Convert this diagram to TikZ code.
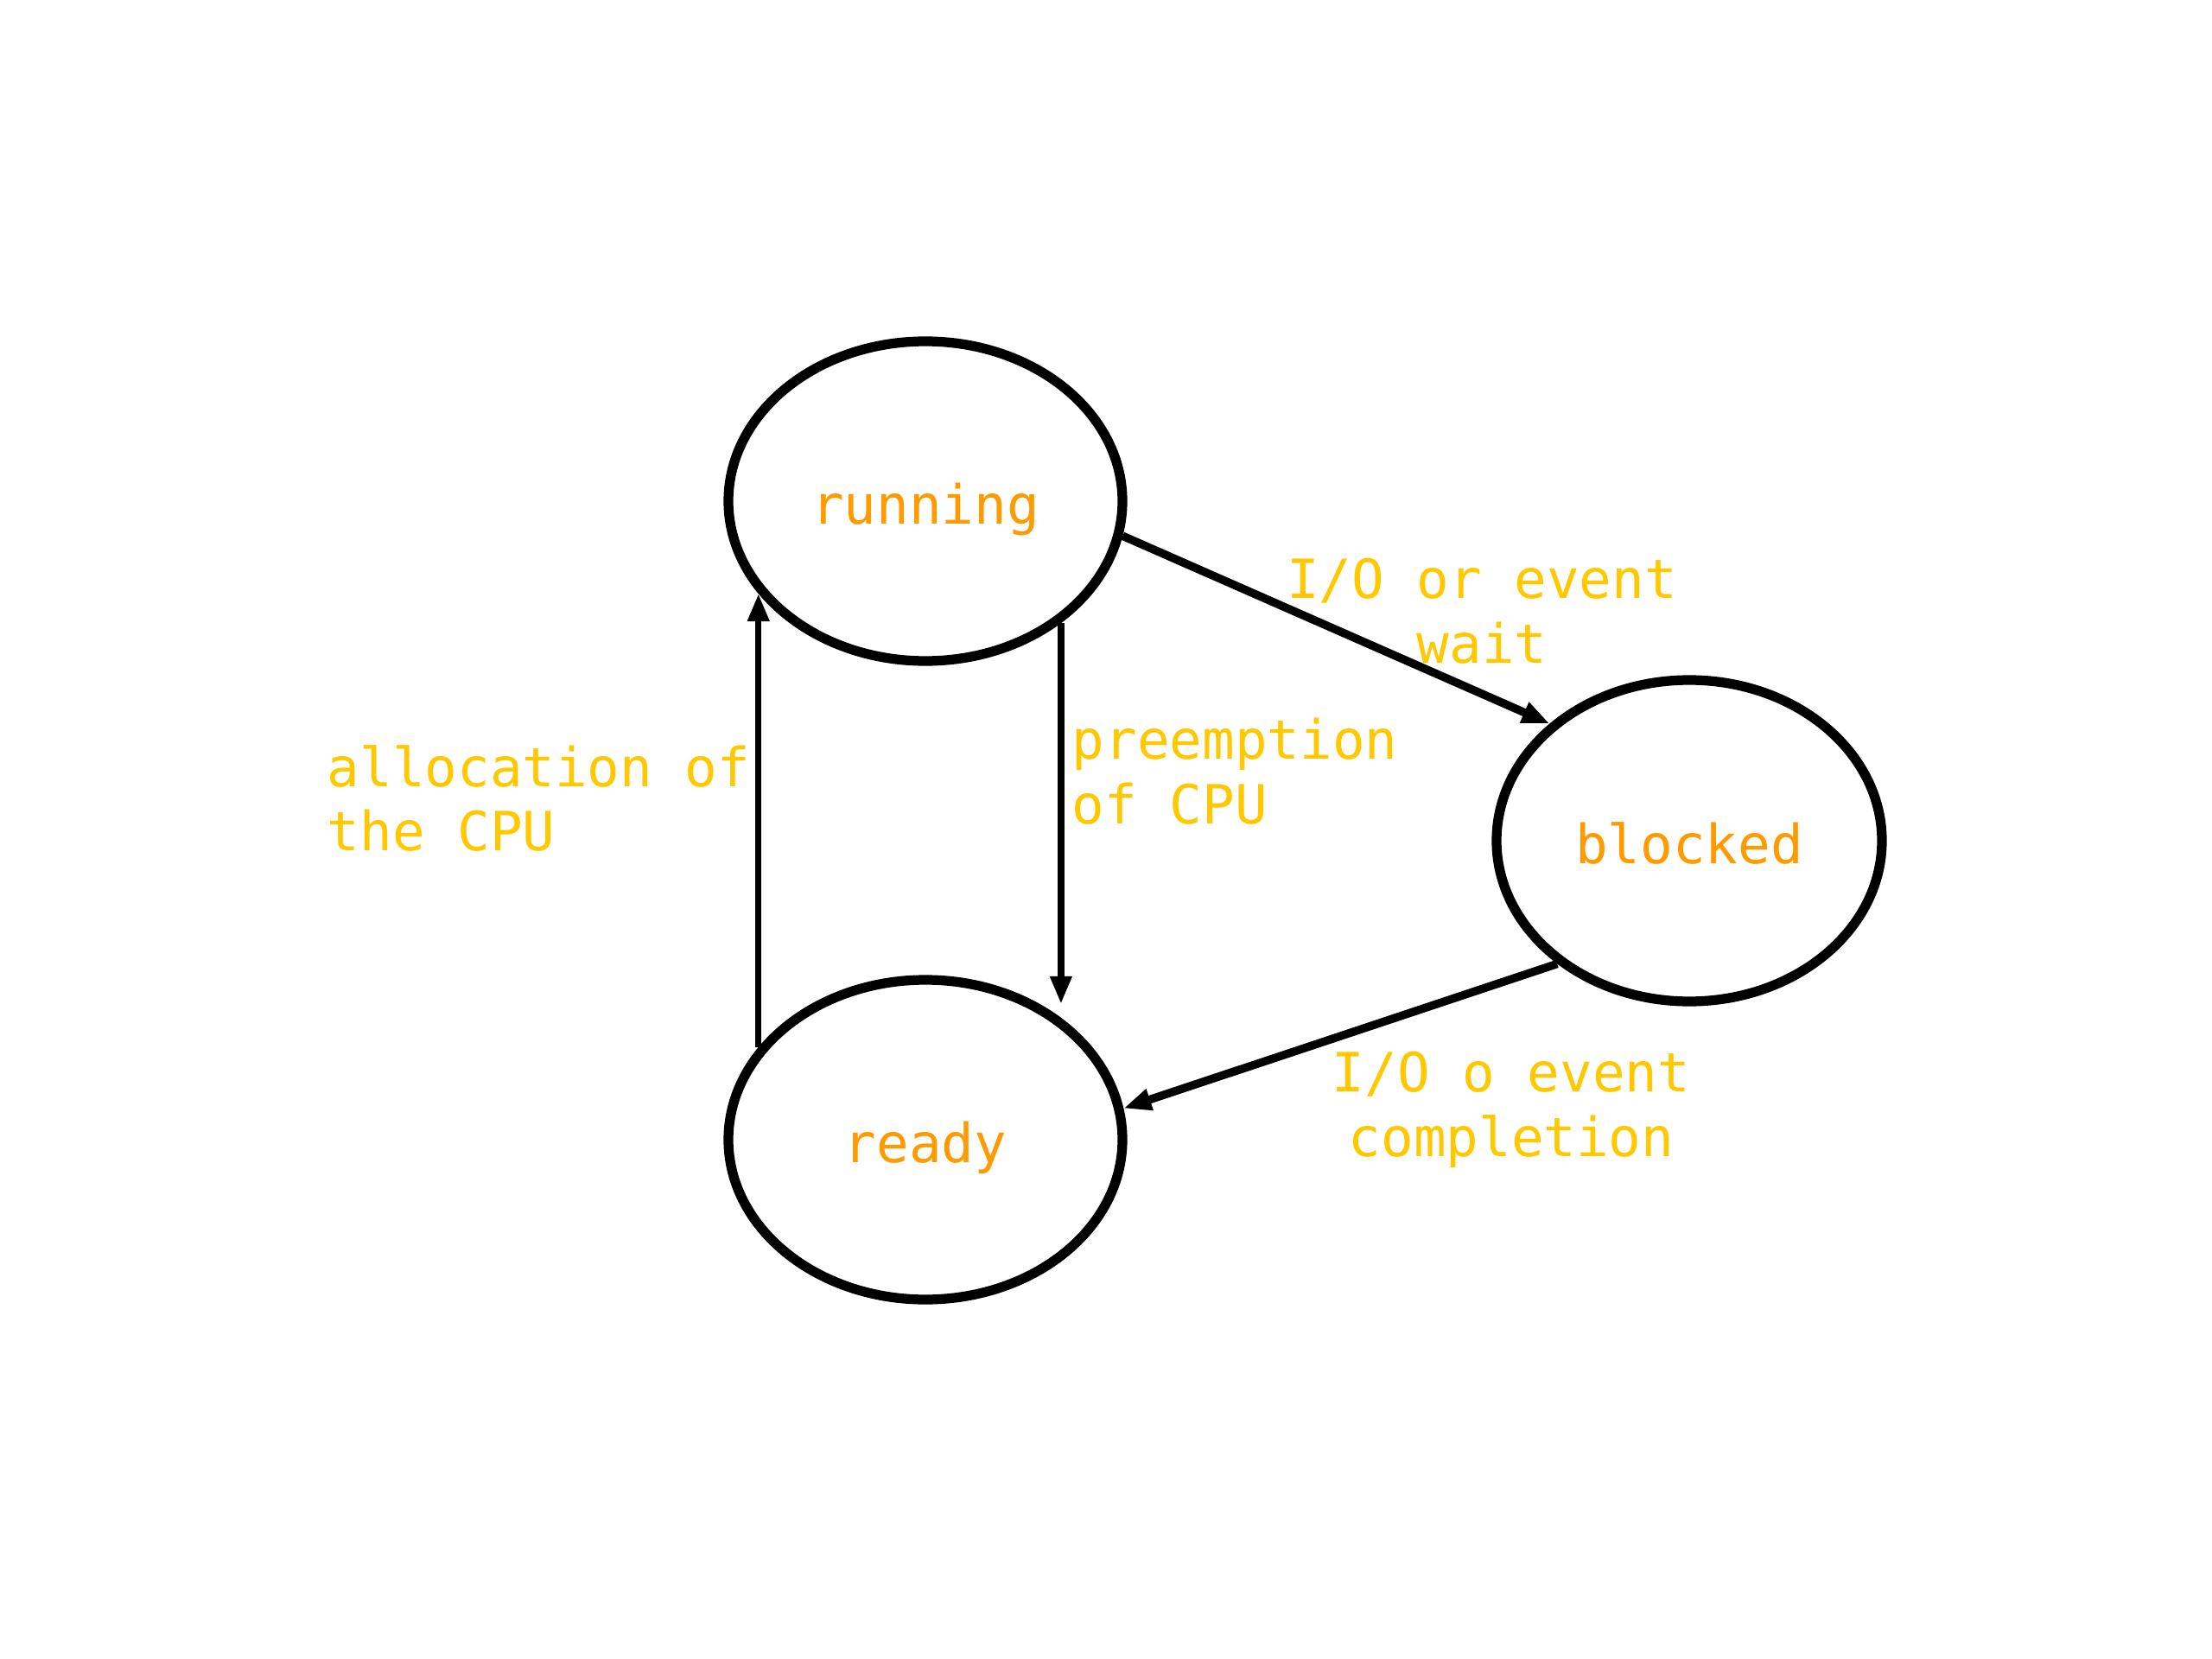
\documentclass[tikz,border=0pt]{standalone}
\usepackage{fontspec}
\setmonofont{DejaVu Sans Mono}
\usetikzlibrary{arrows.meta,shapes.geometric}
\definecolor{ink}{HTML}{000000}
\definecolor{statecol}{HTML}{FF9A00}
\definecolor{edgecol}{HTML}{FFC800}
\tikzset{
  state/.style={ellipse, draw=ink, line width=3.2pt, fill=white, minimum width=45.6mm, minimum height=37.0mm, inner sep=0pt, text height=19.6pt, text depth=4.5pt, font=\ttfamily\fontsize{17.8}{21.3}\selectfont, text=statecol},
  edgelabel/.style={font=\ttfamily\fontsize{17.8}{21.3}\selectfont, text=edgecol, inner sep=0pt},
  arrow/.style={-{Triangle[length=3.2mm,width=2.4mm]}, line width=2.1pt, draw=ink},
  diagarrow/.style={arrow, line width=2.7pt}
}
\begin{document}
\begin{tikzpicture}
\fill[white] (0,0) rectangle (25.6,-19.2);
\useasboundingbox (0,0) rectangle (25.6,-19.2);
\node[state] (run) at (10.71,-5.80) {running};
\node[state] (ready) at (10.71,-13.19) {ready};
\node[state, minimum width=44.6mm, minimum height=37.2mm] (blocked) at (19.55,-9.73) {blocked};
\draw[arrow] (ready.151) -- (run.209);
\draw[arrow, shorten >=1.6mm] (run.-42.5) -- (ready.42.5);
\draw[diagarrow] (run.-10) -- (blocked.140.4);
\draw[diagarrow] (blocked.223.6) -- (ready.9);
\node[edgelabel, align=center] (waitlbl) at (17.15,-7.07) {I/O or event\\wait};
\node[edgelabel, align=left, anchor=west] (preemptlbl) at (12.40,-8.93) {preemption\\of CPU};
\node[edgelabel, align=left, anchor=west] (alloclbl) at (3.78,-9.24) {allocation of\\the CPU};
\node[edgelabel, align=center] (donelbl) at (17.49,-12.84) {I/O o event\\completion};
\end{tikzpicture}
\end{document}
